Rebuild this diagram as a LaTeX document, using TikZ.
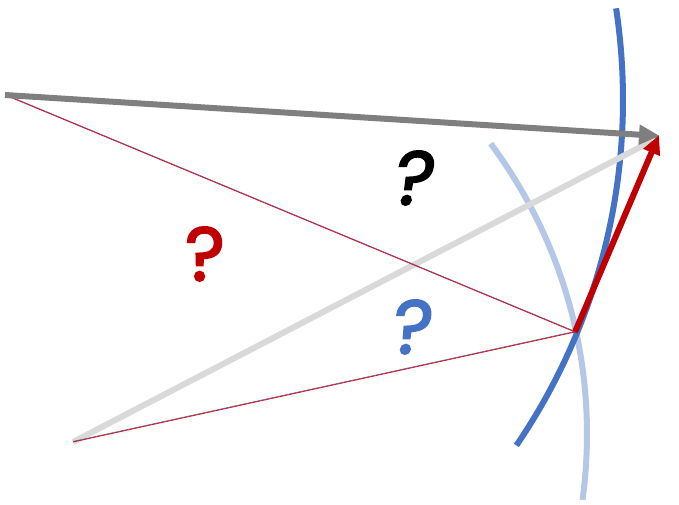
\documentclass[tikz,border=0pt]{standalone}
\usepackage{fontspec}
\usetikzlibrary{arrows.meta}
\newfontfamily\qfont{Poppins}[FakeBold=2.5]
\definecolor{cgray}{HTML}{7F7F7F}
\definecolor{clgray}{HTML}{D9D9D9}
\definecolor{cred}{HTML}{C00000}
\definecolor{cblue}{HTML}{4472C4}
\definecolor{clblue}{HTML}{B4C7E7}
\definecolor{cthinred}{HTML}{E0101A}
\tikzset{
  thick5/.style={line width=6pt},
  thinred/.style={line width=0.8pt, draw=cthinred},
  thinblue/.style={line width=0.7pt, draw=cblue},
  qmark/.style={font=\qfont\fontsize{76}{76}\selectfont, inner sep=0pt},
}
\begin{document}
\begin{tikzpicture}[x=1pt,y=-1pt]
\useasboundingbox (0,0) rectangle (679,505);
\coordinate (A) at (5,95);
\coordinate (T) at (660,136);
\coordinate (B) at (73,442);
\coordinate (P) at (575,332);
\coordinate (L) at (652,141);
% arcs
\draw[clblue, thick5] plot[domain=-36.7:7.8, samples=60] ({101+486*cos(\x)},{434+486*sin(\x)});
\draw[cblue, thick5] plot[domain=-8.6:34.3, samples=80] ({10+613*cos(\x)},{100+613*sin(\x)});
% light gray line
\draw[clgray, thick5] (B) -- (L);
% thin lines
\draw[thinblue] ([yshift=0.6pt]A) -- ([yshift=0.6pt]P);
\draw[thinred] (A) -- (P);
\draw[thinblue] ([yshift=0.6pt]B) -- ([yshift=0.6pt]P);
\draw[thinred] (B) -- (P);
% arrows
\draw[cgray, line width=6pt, -{Triangle[length=21pt,width=19pt]}] (A) -- (T);
\draw[cred, line width=6pt, -{Triangle[length=19pt,width=17pt]}] (P) -- ([xshift=-1pt,yshift=1pt]T);
% question marks
\node[qmark, text=black, xslant=0.15] (q1) at (415,178) {?};
\node[qmark, text=cred] (q2) at (205,254) {?};
\node[qmark, text=cblue, xslant=0.1] (q3) at (413,327) {?};
\end{tikzpicture}
\end{document}
